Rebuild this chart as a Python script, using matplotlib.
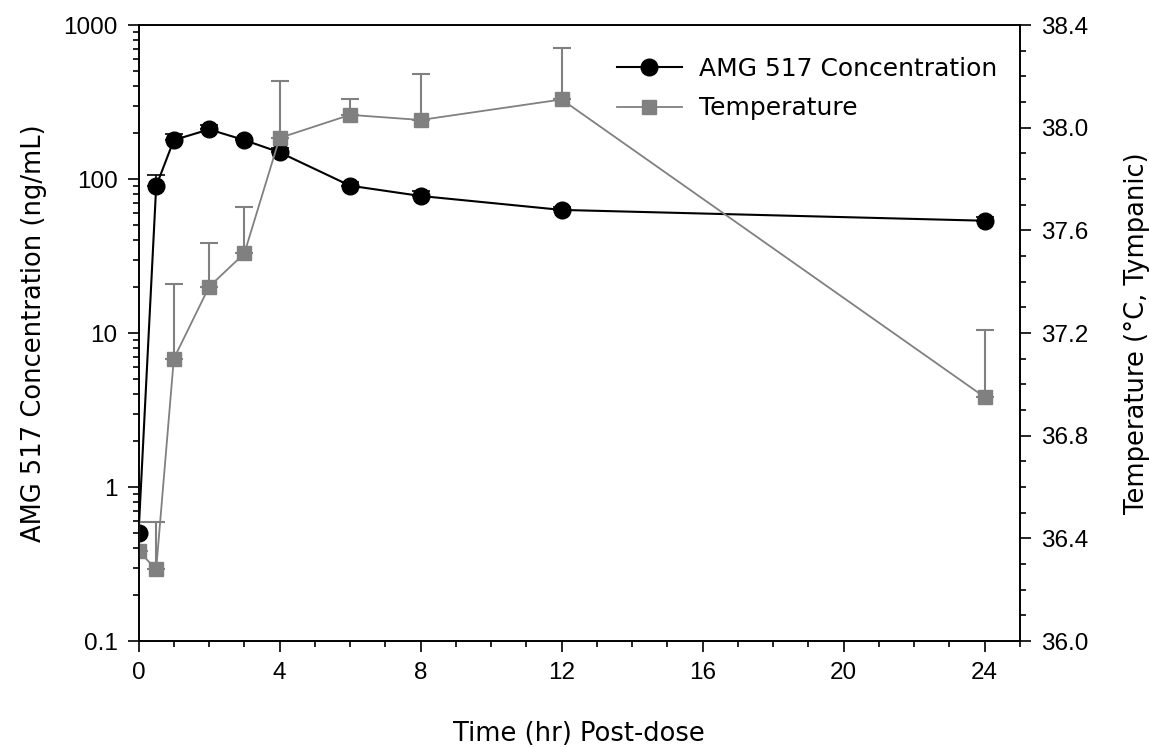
import matplotlib.pyplot as plt
from matplotlib.ticker import LogLocator, MultipleLocator, FixedLocator, NullFormatter
from matplotlib.lines import Line2D

# time points (hr post-dose)
times = [0, 0.5, 1, 2, 3, 4, 6, 8, 12, 24]

# AMG 517 plasma concentration (ng/mL) and upper error
conc = [0.5, 90, 179, 210, 179, 149, 90.5, 77.6, 63, 53.6]
conc_err = [0, 15.7, 16, 13, 5, 9, 5.5, 5.4, 3, 3.4]

# tympanic temperature (deg C) and upper error
temp = [36.35, 36.28, 37.10, 37.38, 37.51, 37.96, 38.05, 38.03, 38.11, 36.95]
temp_err = [0.115, 0.185, 0.29, 0.17, 0.18, 0.22, 0.06, 0.18, 0.20, 0.26]

plt.rcParams['font.family'] = 'Liberation Sans'
label_font = 'DejaVu Sans'

fig = plt.figure(figsize=(11.49, 7.47), dpi=100)
ax = fig.add_axes([0.1206, 0.1419, 0.8877 - 0.1206, 0.9665 - 0.1419])
ax2 = ax.twinx()

# concentration on log axis
ax.errorbar(times, conc, yerr=[[0] * len(conc_err), conc_err], color='black',
            lw=1.5, marker='o', markersize=12, capsize=6.5, elinewidth=1.2,
            capthick=1.2, zorder=3)
ax.set_yscale('log')
ax.set_ylim(0.1, 1000)
ax.set_xlim(0, 25)

# temperature on linear right axis
ax2.errorbar(times, temp, yerr=[[0] * len(temp_err), temp_err], color='#808080',
             lw=1.3, marker='s', markersize=10, capsize=6.5, elinewidth=1.5,
             capthick=1.5)
ax2.set_ylim(36.0, 38.4)

# ticks
ax.set_xticks([0, 4, 8, 12, 16, 20, 24])
ax.xaxis.set_minor_locator(MultipleLocator(1))
ax.yaxis.set_major_locator(FixedLocator([0.1, 1, 10, 100, 1000]))
ax.yaxis.set_minor_locator(LogLocator(base=10, subs=range(2, 10)))
ax.yaxis.set_minor_formatter(NullFormatter())
ax.set_yticklabels(['0.1', '1', '10', '100', '1000'])
ax2.set_yticks([36.0, 36.4, 36.8, 37.2, 37.6, 38.0, 38.4])
ax2.yaxis.set_minor_locator(MultipleLocator(0.1))
ax2.set_yticklabels(['36.0', '36.4', '36.8', '37.2', '37.6', '38.0', '38.4'])

for a in (ax, ax2):
    a.tick_params(which='major', direction='out', length=8, width=1.2,
                  labelsize=17.5, pad=7)
    a.tick_params(which='minor', direction='out', length=4, width=1.2)
    for s in a.spines.values():
        s.set_linewidth(1.2)

ax.set_xlabel('Time (hr) Post-dose', fontsize=18.5, family=label_font, labelpad=27)
ax.set_ylabel('AMG 517 Concentration (ng/mL)', fontsize=18.5, family=label_font,
              labelpad=12)
ax2.set_ylabel('Temperature (°C, Tympanic)', fontsize=18.5, family=label_font,
               labelpad=26)

handles = [
    Line2D([], [], color='black', lw=1.5, marker='o', markersize=12),
    Line2D([], [], color='#808080', lw=1.3, marker='s', markersize=10),
]
ax2.legend(handles, ['AMG 517 Concentration', 'Temperature'], loc='upper right',
           frameon=False, prop={'family': label_font, 'size': 18},
           handlelength=2.6, handletextpad=0.7, bbox_to_anchor=(1.0, 0.985),
           labelspacing=0.62)

fig.savefig('out.png', dpi=100)
